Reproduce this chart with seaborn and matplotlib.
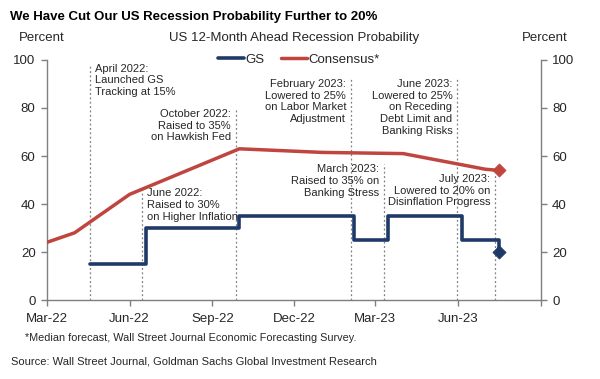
import pandas as pd
import matplotlib.pyplot as plt
import seaborn as sns

# GS recession probability (step series)
gs_dates = ["2022-04-18", "2022-06-19", "2022-10-01", "2023-02-05",
            "2023-03-15", "2023-06-05", "2023-07-16"]
gs_vals = [15, 30, 35, 25, 35, 25, 20]

# WSJ consensus
cons_dates = ["2022-03-01", "2022-04-01", "2022-06-01", "2022-10-01",
              "2023-01-01", "2023-04-01", "2023-07-01", "2023-07-16"]
cons_vals = [24, 28, 44, 63, 61.5, 61, 54.5, 54]

# annotated events
event_dates = ["2022-04-18", "2022-06-15", "2022-09-27", "2023-02-02",
               "2023-03-11", "2023-05-31", "2023-07-12"]
event_tops = [98.5, 46.5, 79.5, 92, 56.5, 92, 52.5]
event_text = [
    "April 2022:\nLaunched GS\nTracking at 15%",
    "June 2022:\nRaised to 30%\non Higher Inflation",
    "October 2022:\nRaised to 35%\non Hawkish Fed",
    "February 2023:\nLowered to 25%\non Labor Market\nAdjustment",
    "March 2023:\nRaised to 35% on\nBanking Stress",
    "June 2023:\nLowered to 25%\non Receding\nDebt Limit and\nBanking Risks",
    "July 2023:\nLowered to 20% on\nDisinflation Progress",
]
event_side = ["left", "left", "right", "right", "right", "right", "right"]

tick_dates = ["2022-03-01", "2022-06-01", "2022-09-01", "2022-12-01",
              "2023-03-01", "2023-06-01", "2023-09-01"]
tick_labels = ["Mar-22", "Jun-22", "Sep-22", "Dec-22", "Mar-23", "Jun-23", ""]

navy = "#1f3a68"
red = "#c0453f"
grey = "#7f7f7f"
txt = "#262626"

sns.set_style("white")
plt.rcParams["font.family"] = ["Liberation Sans", "DejaVu Sans"]

gs = pd.DataFrame({"date": pd.to_datetime(gs_dates), "val": gs_vals})
cons = pd.DataFrame({"date": pd.to_datetime(cons_dates), "val": cons_vals})

fig = plt.figure(figsize=(6, 3.79), dpi=100)
ax = fig.add_axes([0.0778, 0.2084, 0.8239, 0.6333])

# dotted event lines
ax.vlines(pd.to_datetime(event_dates), 0, event_tops, colors=grey,
          linestyles=(0, (1.5, 2)), linewidth=0.9, zorder=1)

sns.lineplot(data=cons, x="date", y="val", color=red, linewidth=2.5,
             label="Consensus*", ax=ax, zorder=3)
sns.lineplot(data=gs, x="date", y="val", color=navy, linewidth=2.6,
             drawstyle="steps-post", label="GS", ax=ax, zorder=3)
sns.scatterplot(x=cons["date"].iloc[-1:], y=cons["val"].iloc[-1:], marker="D",
                s=45, color=red, edgecolor=red, ax=ax, zorder=4, legend=False)
sns.scatterplot(x=gs["date"].iloc[-1:], y=gs["val"].iloc[-1:], marker="D",
                s=45, color=navy, edgecolor=navy, ax=ax, zorder=4, legend=False)

for d, top, t, side in zip(event_dates, event_tops, event_text, event_side):
    dx = 3.5 if side == "left" else -3.5
    ax.annotate(t, xy=(pd.Timestamp(d), top), xytext=(dx, 0),
                textcoords="offset points", ha=side, va="top",
                fontsize=8, color=txt, linespacing=1.2)

ax.set_xlim(pd.Timestamp("2022-03-01"), pd.Timestamp("2023-09-01"))
ax.set_ylim(0, 100)
ax.set_yticks([0, 20, 40, 60, 80, 100])
ax.set_xticks(pd.to_datetime(tick_dates))
ax.set_xticklabels(tick_labels)
ax.set_xlabel("")
ax.set_ylabel("")

for s in ["left", "right", "bottom"]:
    ax.spines[s].set_color(grey)
    ax.spines[s].set_linewidth(1)
ax.spines["top"].set_visible(False)
ax.tick_params(axis="both", which="both", direction="out", length=4,
               width=1, color=grey, labelsize=9.5, labelcolor=txt)
ax.tick_params(axis="y", left=True, right=True, labelleft=True,
               labelright=True, pad=4)
ax.tick_params(axis="x", bottom=True, pad=5)

h, l = ax.get_legend_handles_labels()
ax.legend(h[::-1], l[::-1], loc="center", bbox_to_anchor=(0.51, 1.0), ncol=2,
          frameon=False, fontsize=9.5, handlelength=2.0, handletextpad=0.1,
          columnspacing=1.2, labelcolor=txt)

fig.text(0.017, 0.955, "We Have Cut Our US Recession Probability Further to 20%",
         fontsize=9.5, fontweight="bold", color="black", va="center")
fig.text(0.49, 0.9, "US 12-Month Ahead Recession Probability",
         fontsize=9.5, color=txt, ha="center", va="center")
fig.text(0.07, 0.9, "Percent", fontsize=9.5, color=txt, ha="center", va="center")
fig.text(0.908, 0.9, "Percent", fontsize=9.5, color=txt, ha="center", va="center")
fig.text(0.042, 0.108, "*Median forecast, Wall Street Journal Economic Forecasting Survey.",
         fontsize=7.8, color=txt, va="center")
fig.text(0.018, 0.045, "Source: Wall Street Journal, Goldman Sachs Global Investment Research",
         fontsize=8, color=txt, va="center")

fig.savefig("out.png", dpi=100)
